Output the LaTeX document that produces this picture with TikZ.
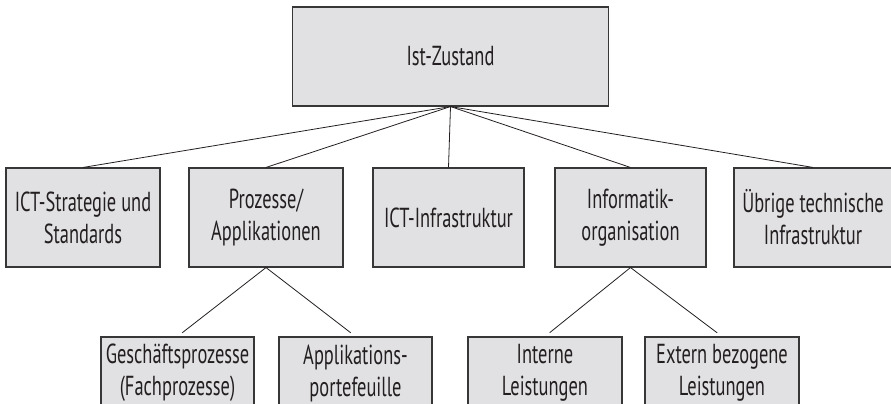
\documentclass[tikz,border=0pt]{standalone}
\usepackage{fontspec}
\setmainfont{PT Sans}[FakeStretch=0.67]
\definecolor{boxfill}{RGB}{225,225,227}
\definecolor{boxline}{RGB}{55,55,55}
\definecolor{ink}{RGB}{35,31,32}
\begin{document}
\begin{tikzpicture}[x=1pt,y=-1pt,
  box/.style={draw=boxline, fill=boxfill, line width=1.1pt,
    minimum height=99pt, inner sep=0pt, align=center, text=ink,
    font=\fontsize{27.5}{32}\selectfont},
  leaf/.style={box, minimum height=72pt},
  link/.style={draw=ink, line width=0.8pt},
  sublink/.style={link, shorten >=6pt},
]
\useasboundingbox (0,0) rectangle (891,404);
\clip (0,0) rectangle (891,404);

% root
\node[box, minimum width=316pt] (root) at (450.5,56.5) {Ist-Zustand};

% second level
\node[box, minimum width=154pt] (strat) at (83,217.5) {ICT-Strategie und\\Standards};
\node[box, minimum width=154pt] (proz)  at (266,217.5) {Prozesse/\\Applikationen};
\node[box, minimum width=151pt] (infra) at (448.5,217.5) {ICT-Infrastruktur};
\node[box, minimum width=151pt] (orga)  at (630.5,217.5) {Informatik-\\organisation};
\node[box, minimum width=158pt] (tech)  at (813,217.5) {Übrige technische\\Infrastruktur};

% third level
\node[leaf, minimum width=153pt] (gp)  at (177.5,373) {Geschäftsprozesse\\(Fachprozesse)};
\node[leaf, minimum width=153pt] (ap)  at (355.5,373) {Applikations-\\portefeuille};
\node[leaf, minimum width=154pt] (il)  at (545,373) {Interne\\Leistungen};
\node[leaf, minimum width=154pt] (el)  at (722,373) {Extern bezogene\\Leistungen};

% connectors
\foreach \n in {strat,proz,infra,orga,tech}
  \draw[link] (root.south) -- (\n.north);
\draw[sublink] (proz.south) -- (gp.north);
\draw[sublink] (proz.south) -- (ap.north);
\draw[sublink] (orga.south) -- (il.north);
\draw[sublink] (orga.south) -- (el.north);
\end{tikzpicture}
\end{document}
